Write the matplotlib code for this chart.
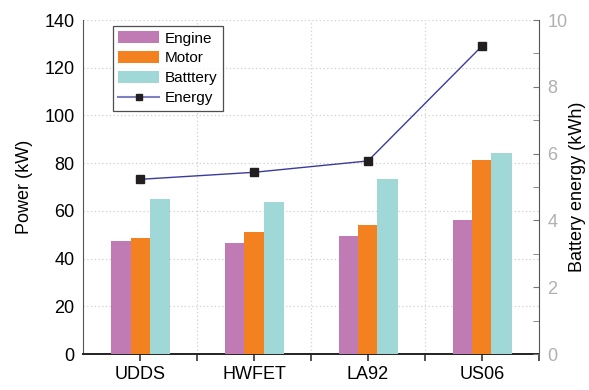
import matplotlib.pyplot as plt
import numpy as np
from matplotlib.lines import Line2D
from matplotlib.patches import Patch

plt.rcParams['font.family'] = ['Liberation Sans', 'DejaVu Sans']

ciclos = ['UDDS', 'HWFET', 'LA92', 'US06']
potencia_motor_combustao = [47.2, 46.5, 49.4, 56.2]
potencia_motor_eletrico = [48.6, 51.1, 53.9, 81.3]
potencia_bateria = [65.0, 63.7, 73.5, 84.4]
energia_bateria = [5.23, 5.44, 5.78, 9.22]

cor_engine = '#C07BB4'
cor_motor = '#F48120'
cor_bateria = '#A0D8D8'
cor_linha = '#3B3B9C'


def gerar_grafico(caminho_saida='out.png'):
    fig = plt.figure(figsize=(5.89, 3.90), dpi=100)
    ax = fig.add_axes([0.141, 0.0923, 0.774, 0.8564])

    x = np.arange(len(ciclos))
    largura = 0.167
    ax.bar(x - largura, potencia_motor_combustao, largura, color=cor_engine, zorder=3)
    ax.bar(x, potencia_motor_eletrico, largura, color=cor_motor, zorder=3)
    ax.bar(x + largura + 0.008, potencia_bateria, largura + 0.016, color=cor_bateria, zorder=3)

    ax.set_xlim(-0.5, 3.5)
    ax.set_ylim(0, 140)
    ax.set_yticks(range(0, 141, 20))
    ax.set_xticks(x)
    ax.set_xticklabels(ciclos, fontsize=13)
    ax.set_xticks([0.5, 1.5, 2.5, 3.5], minor=True)
    ax.tick_params(axis='x', which='both', direction='out', length=5, width=1.2, color='#333333')
    ax.tick_params(axis='y', length=0, labelsize=13, pad=6)
    ax.set_ylabel('Power (kW)', fontsize=13, labelpad=8)

    ax.grid(axis='y', linestyle=(0, (1, 2)), color='#d0d0d0', linewidth=0.9, zorder=0)
    ax.grid(axis='x', which='minor', linestyle=(0, (1, 2)), color='#d0d0d0', linewidth=0.9, zorder=0)

    ax.spines['top'].set_visible(False)
    ax.spines['right'].set_visible(False)
    ax.spines['left'].set_color('#555555')
    ax.spines['bottom'].set_color('#222222')
    ax.spines['bottom'].set_linewidth(1.4)

    ax2 = ax.twinx()
    ax2.plot(x, energia_bateria, color=cor_linha, linewidth=1.0, marker='s',
             markersize=6, markerfacecolor='#231F20', markeredgecolor='#231F20', zorder=4)
    ax2.set_ylim(0, 10)
    ax2.set_yticks(range(0, 11, 2))
    ax2.set_yticks(range(1, 10, 2), minor=True)
    ax2.tick_params(axis='y', which='both', direction='in', length=4, color='#777777',
                    labelcolor='#b0b0b0', labelsize=13, pad=6)
    ax2.set_ylabel('Battery energy (kWh)', fontsize=13, labelpad=1)
    for lado in ['top', 'left', 'bottom']:
        ax2.spines[lado].set_visible(False)
    ax2.spines['right'].set_color('#555555')

    itens = [
        Patch(facecolor=cor_engine, label='Engine'),
        Patch(facecolor=cor_motor, label='Motor'),
        Patch(facecolor=cor_bateria, label='Batttery'),
        Line2D([0], [0], color='#8080C0', marker='s', markersize=5,
               markerfacecolor='#231F20', markeredgecolor='#231F20', label='Energy'),
    ]
    leg = ax2.legend(handles=itens, loc='upper left', bbox_to_anchor=(0.065, 0.982),
                     fontsize=11, frameon=True, fancybox=False, edgecolor='#222222',
                     handlelength=2.7, handleheight=0.8, labelspacing=0.38,
                     borderpad=0.35, handletextpad=0.35, borderaxespad=0)
    leg.get_frame().set_linewidth(0.9)

    fig.savefig(caminho_saida, dpi=100)
    plt.close(fig)


if __name__ == '__main__':
    gerar_grafico()
